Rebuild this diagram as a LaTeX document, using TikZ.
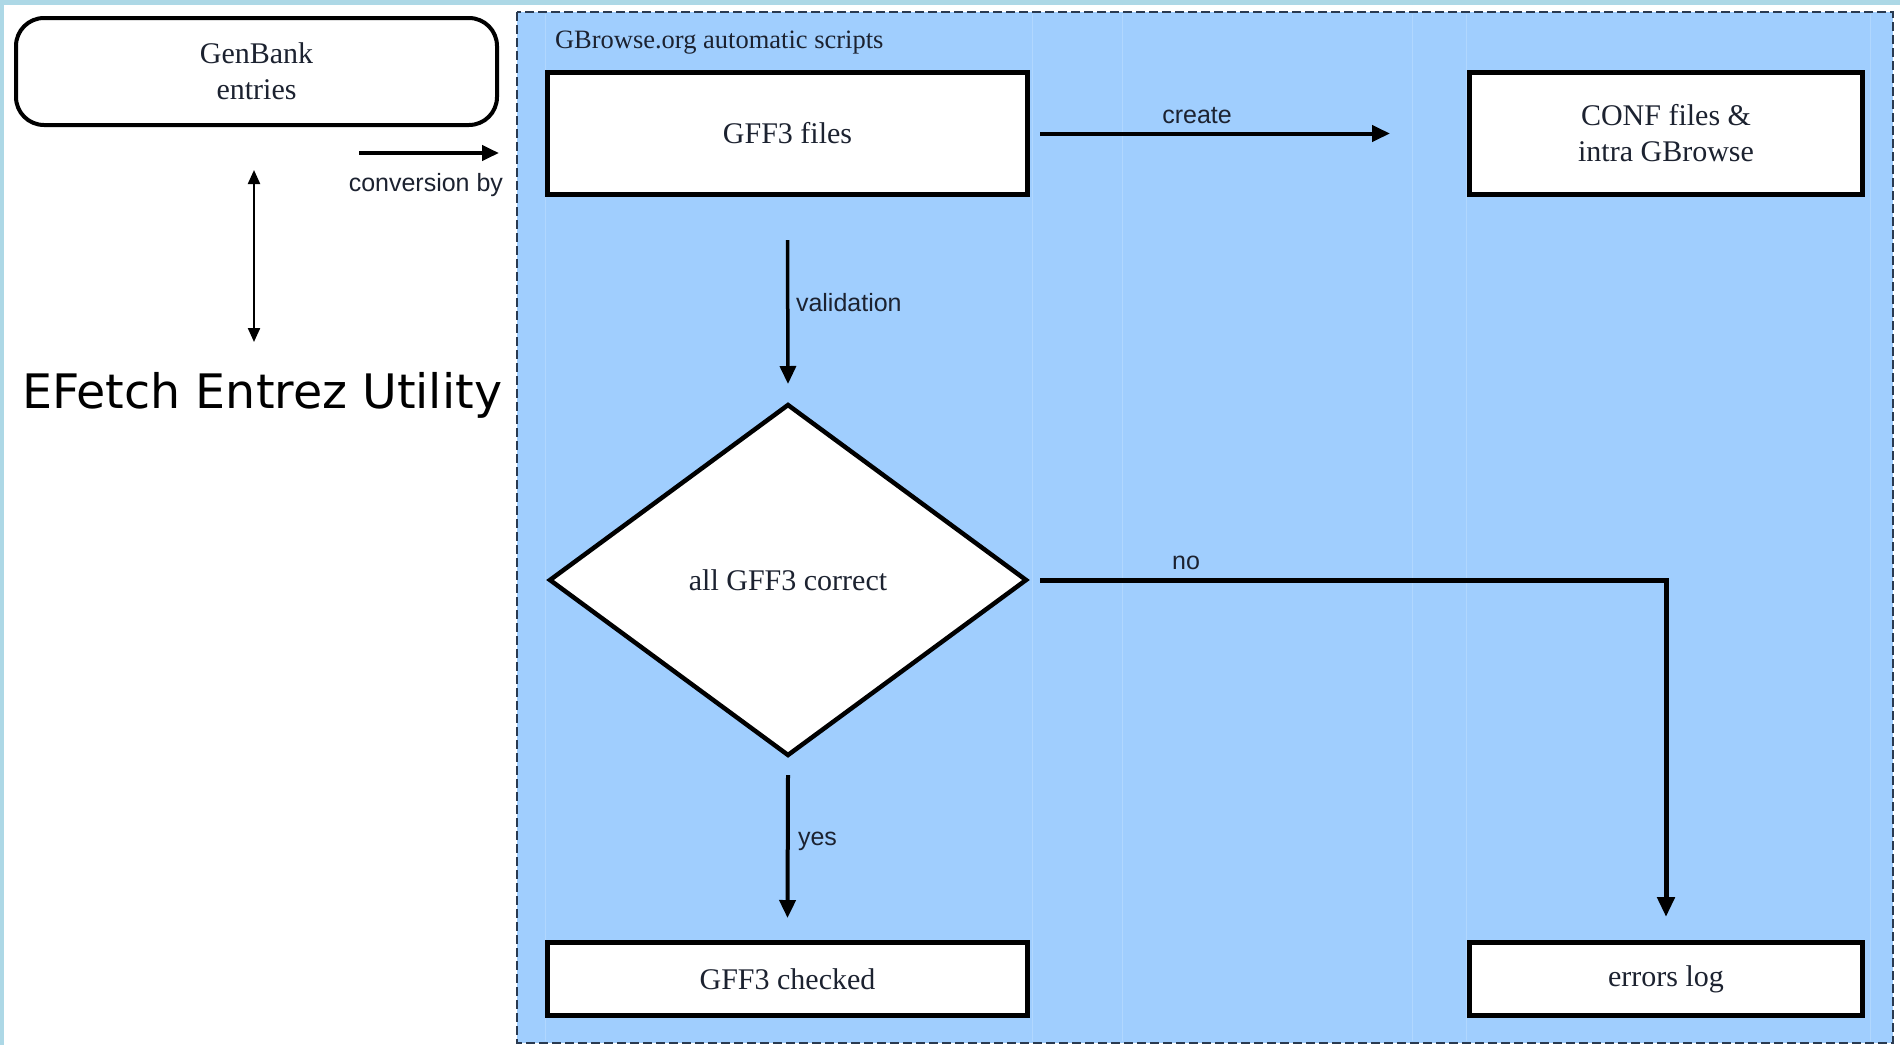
\documentclass[tikz,border=0pt]{standalone}
\usepackage{fontspec}
\setmainfont{Liberation Serif}
\newfontfamily\arialf{Liberation Sans}
\newfontfamily\dejavu{DejaVu Sans}
\usetikzlibrary{arrows.meta,shapes.geometric}
\definecolor{framecyan}{HTML}{ADD8E6}
\definecolor{regionblue}{RGB}{160,206,254}
\definecolor{dashgray}{HTML}{2A3A50}
\definecolor{textdark}{HTML}{1C2230}
\begin{document}
\begin{tikzpicture}[x=1pt,y=-1pt,
  every node/.style={inner sep=0pt, outer sep=0pt},
  box/.style={draw=black, line width=5.5pt, fill=white, rectangle, align=center,
    font=\fontsize{30}{36}\selectfont, text=textdark},
  lbl/.style={font=\arialf\fontsize{25}{28}\selectfont, text=textdark},
  arr/.style={-{Triangle[length=18pt,width=16pt]}, line width=4pt},
  thinarr/.style={{Triangle[length=14pt,width=12pt]}-{Triangle[length=14pt,width=12pt]}, line width=2.2pt},
  faint/.style={regionblue!82!white, line width=0.8pt}
]
\useasboundingbox (0,0) rectangle (1900,1045);
% frame and background
\fill[framecyan] (0,0) rectangle (1900,1045);
\fill[white] (4,5) rectangle (1900,1045);
\fill[regionblue] (517,12) rectangle (1893,1043);
\foreach \gx in {545,1032,1122,1412,1466,1870}
  \draw[faint] (\gx,14) -- (\gx,1041);
\draw[dashgray, line width=2pt, dash pattern=on 9pt off 4pt] (517,12) rectangle (1893,1043);

% left part
\node[draw=black, line width=4pt, fill=white, rounded corners=28pt,
      minimum width=481pt, minimum height=107pt, align=center,
      font=\fontsize{30}{36}\selectfont, text=textdark] (gb) at (256.5,71.5) {GenBank\\entries};
\coordinate (cv1) at (359,153);
\coordinate (cv2) at (499,153);
\draw[-{Triangle[length=17pt,width=15pt]}, line width=4pt] (cv1) -- (cv2);
\node[lbl, anchor=east] (cvl) at (503,185) {conversion by};
\node[anchor=west, font=\dejavu\fontsize{47.5}{56}\selectfont] (ef) at (22,395) {EFetch Entrez Utility};
\coordinate (da1) at (254,170);
\coordinate (da2) at (254,342);
\draw[thinarr] (da1) -- (da2);

% region title
\node[anchor=west, font=\fontsize{26.5}{30}\selectfont, text=textdark] (title) at (555,43) {GBrowse.org automatic scripts};

% boxes
\node[box, minimum width=480pt, minimum height=122pt] (gff) at (787.5,133.5) {\raisebox{-3pt}{GFF3 files}};
\node[box, minimum width=393pt, minimum height=122pt] (conf) at (1666,133.5) {CONF files \&\\intra GBrowse};
\node[box, minimum width=480pt, minimum height=73pt] (chk) at (787.5,979) {\raisebox{-2pt}{GFF3 checked}};
\node[box, minimum width=393pt, minimum height=73pt] (err) at (1666,979) {\raisebox{-5pt}{errors log}};
\node[diamond, draw=black, line width=4.5pt, fill=white, minimum width=476pt, minimum height=350pt,
      font=\fontsize{30}{36}\selectfont, text=textdark] (dia) at (788,580) {\raisebox{-3pt}{all GFF3 correct}};

% connectors
\draw[arr] ([xshift=12.5pt]gff.east) -- ([xshift=-79.5pt]conf.west);
\node[lbl] (lcreate) at (1197,116) {create};
\draw[arr, line width=3.5pt] ([yshift=-45.5pt]gff.south) -- ([yshift=21pt]dia.north);
\node[lbl, anchor=west] (lval) at (796,303) {validation};
\draw[arr, line width=5pt, -{Triangle[length=20pt,width=17pt]}] ([xshift=14pt]dia.east) -| ([yshift=25.5pt]err.north);
\node[lbl] (lno) at (1186,563) {no};
\draw[arr] ([yshift=-20pt]dia.south) -- ([yshift=24.5pt]chk.north);
\node[lbl, anchor=west] (lyes) at (798,841) {yes};
\end{tikzpicture}
\end{document}
